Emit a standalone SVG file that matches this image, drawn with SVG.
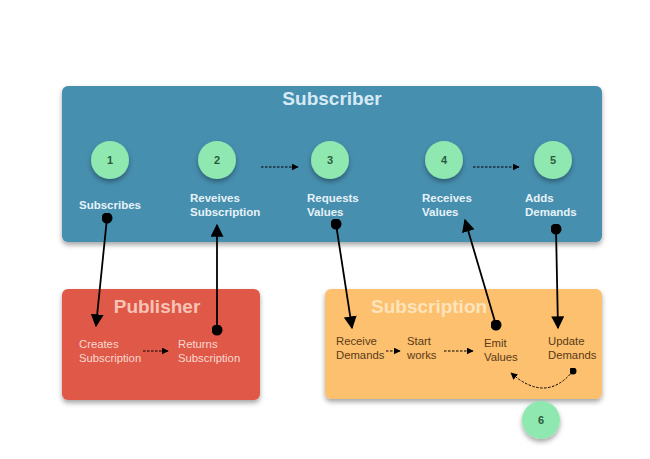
<svg xmlns="http://www.w3.org/2000/svg" width="650" height="459" viewBox="0 0 650 459">
<defs>
<filter id="sh" x="-20%" y="-20%" width="140%" height="150%"><feDropShadow dx="0" dy="3" stdDeviation="2.5" flood-color="#000" flood-opacity="0.35"/></filter>
<marker id="ah" viewBox="0 0 10 10" refX="9" refY="5" markerWidth="7" markerHeight="7" orient="auto" markerUnits="userSpaceOnUse"><path d="M0,0 L10,5 L0,10 z" fill="#000"/></marker>
<marker id="big" viewBox="0 0 10 10" refX="9" refY="5" markerWidth="13" markerHeight="13" orient="auto" markerUnits="userSpaceOnUse"><path d="M0,0 L10,5 L0,10 z" fill="#000"/></marker>
<marker id="dot" viewBox="0 0 10 10" refX="5" refY="5" markerWidth="11" markerHeight="11" markerUnits="userSpaceOnUse"><circle cx="5" cy="5" r="5" fill="#000"/></marker>
<marker id="sdot" viewBox="0 0 10 10" refX="5" refY="5" markerWidth="7" markerHeight="7" markerUnits="userSpaceOnUse"><circle cx="5" cy="5" r="5" fill="#000"/></marker>
</defs>
<style>
text{font-family:"Liberation Sans",Arial,sans-serif}
.step{fill:#8ee8b0;filter:url(#sh)}
.num{font-size:11px;font-weight:bold;fill:#2d5a3c;text-anchor:middle}
.sl{font-size:11.5px;font-weight:bold;fill:#e6f2f8}
.pl{font-size:11.3px;fill:#f8d8d0}
.ul{font-size:11.3px;fill:#5a3a18}
.title{font-size:19px;font-weight:bold}
.dash{stroke:#000;stroke-width:1;stroke-dasharray:2.5,1.5;fill:none}
.solid{stroke:#000;stroke-width:1.8;fill:none}
</style>
<rect x="0" y="0" width="650" height="459" fill="#fff"/>
<g id="subscriber">
<rect x="62" y="86" width="540" height="156" rx="6" fill="#468faf" filter="url(#sh)"/>
<text class="title" x="332" y="105" fill="#d6ebf5" text-anchor="middle">Subscriber</text>
</g>
<g id="publisher">
<rect x="62" y="289" width="198" height="111" rx="6" fill="#e05947" filter="url(#sh)"/>
<text class="title" x="157" y="313" fill="#f6c4b6" text-anchor="middle">Publisher</text>
<text class="pl" x="79" y="348">Creates</text><text class="pl" x="79" y="362">Subscription</text>
<text class="pl" x="178" y="348">Returns</text><text class="pl" x="178" y="362">Subscription</text>
</g>
<g id="subscription">
<rect x="325" y="289" width="277" height="110" rx="6" fill="#fcc06e" filter="url(#sh)"/>
<text class="title" x="371" y="313" fill="#fde4bc">Subscription</text>
<text class="ul" x="336" y="345">Receive</text><text class="ul" x="336" y="359">Demands</text>
<text class="ul" x="407" y="345">Start</text><text class="ul" x="407" y="359">works</text>
<text class="ul" x="484" y="347">Emit</text><text class="ul" x="484" y="361">Values</text>
<text class="ul" x="548" y="345">Update</text><text class="ul" x="548" y="359">Demands</text>
</g>
<g id="s1"><circle class="step" cx="110" cy="160" r="19"/><text class="num" x="110" y="164">1</text><text class="sl" x="79" y="209">Subscribes</text></g>
<g id="s2"><circle class="step" cx="217" cy="160" r="19"/><text class="num" x="217" y="164">2</text><text class="sl" x="190" y="202">Reveives</text><text class="sl" x="190" y="216">Subscription</text></g>
<g id="s3"><circle class="step" cx="330" cy="160" r="19"/><text class="num" x="330" y="164">3</text><text class="sl" x="307" y="202">Requests</text><text class="sl" x="307" y="216">Values</text></g>
<g id="s4"><circle class="step" cx="444" cy="160" r="19"/><text class="num" x="444" y="164">4</text><text class="sl" x="422" y="202">Receives</text><text class="sl" x="422" y="216">Values</text></g>
<g id="s5"><circle class="step" cx="553" cy="160" r="19"/><text class="num" x="553" y="164">5</text><text class="sl" x="525" y="202">Adds</text><text class="sl" x="525" y="216">Demands</text></g>
<g id="s6"><circle class="step" cx="541" cy="420" r="19"/><text class="num" x="541" y="424">6</text></g>
<g id="connectors">
<path class="dash" d="M261,167 L298,167" marker-end="url(#ah)"/>
<path class="dash" d="M473,167 L519,167" marker-end="url(#ah)"/>
<path class="dash" d="M143,351 L168,351" marker-end="url(#ah)"/>
<path class="dash" d="M386,351 L400,351" marker-end="url(#ah)"/>
<path class="dash" d="M444,351 L473,351" marker-end="url(#ah)"/>
<path class="dash" d="M573,371 Q546,404 511,373" marker-start="url(#sdot)" marker-end="url(#ah)"/>
<path class="solid" d="M107,218 L96,326" marker-start="url(#dot)" marker-end="url(#big)"/>
<path class="solid" d="M217,330 L217,225" marker-start="url(#dot)" marker-end="url(#big)"/>
<path class="solid" d="M336,224 L352,328" marker-start="url(#dot)" marker-end="url(#big)"/>
<path class="solid" d="M496,325 L465,220" marker-start="url(#dot)" marker-end="url(#big)"/>
<path class="solid" d="M556,229 L558,328" marker-start="url(#dot)" marker-end="url(#big)"/>
</g>
</svg>
